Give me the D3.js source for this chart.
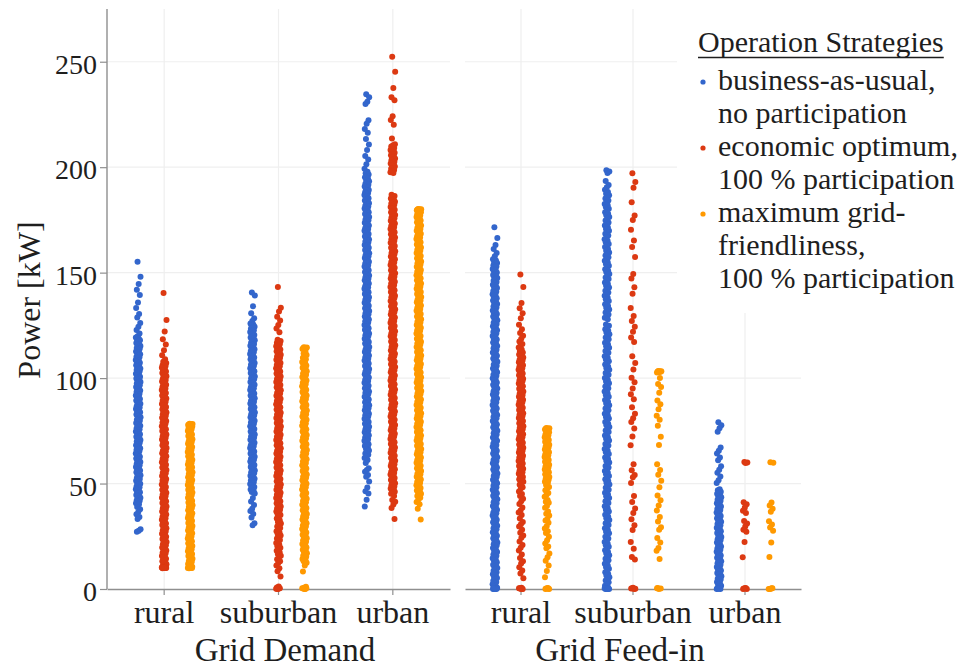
<!DOCTYPE html>
<html>
<head>
<meta charset="utf-8">
<script src="https://cdn.jsdelivr.net/npm/d3@7"></script>
<style>
  body { margin: 0; background: #fff; }
  svg { display: block; }
  text { font-family: "Liberation Serif", "DejaVu Serif", serif; fill: #1e1e1e; }
</style>
</head>
<body>
<svg id="chart" width="973" height="669"></svg>
<script>
// ---- categories, strategies, ticks ----
const panels = ["Grid Demand", "Grid Feed-in"];
const categories = ["rural", "suburban", "urban"];
const strategies = ["bau", "econ", "max"];
const strategyLabels = [
  ["business-as-usual,", "no participation"],
  ["economic optimum,", "100 % participation"],
  ["maximum grid-", "friendliness,", "100 % participation"]
];
const strategyColors = ["#3366cc", "#dc3912", "#ff9900"];
const yTicks = [0, 50, 100, 150, 200, 250];

// ---- power values [kW] per panel / area / strategy ----
const demandRuralBau = [155.2,148.1,144.6,141.9,139.4,135.8,133.2,130.4,128.7,126.1,124.3,122.8,121.2,
119.8,119.3,118.7,118.2,117.9,117.4,116.6,116.1,115.8,115.2,114.7,114.3,113.9,113.4,112.6,112.2,111.8,111.3,110.7,110.1,109.9,109.4,108.6,108.2,107.8,107.3,106.7,106.1,105.9,105.4,104.6,104.2,103.8,103.3,102.7,102.1,101.9,101.4,100.6,100.2,99.8,99.3,98.7,98.1,97.9,97.4,96.6,96.2,95.8,95.3,94.7,94.1,93.9,93.4,92.6,92.2,91.8,91.3,90.7,90.1,89.9,89.4,88.6,88.2,87.8,87.3,86.7,86.1,85.9,85.4,84.6,84.2,83.8,83.3,82.7,82.1,81.9,81.4,80.6,80.2,79.8,79.3,78.7,78.1,77.9,77.4,76.6,76.2,75.8,75.3,74.7,74.1,73.9,73.4,72.6,72.2,71.8,71.3,70.7,70.1,69.9,69.4,68.6,68.2,67.8,67.3,66.7,66.1,65.9,65.4,64.6,64.2,63.8,63.3,62.7,62.1,61.9,61.4,60.6,60.2,59.8,59.3,58.7,58.1,57.9,57.4,56.6,56.2,55.8,55.3,54.7,54.1,53.9,53.4,52.6,52.2,51.8,51.3,50.7,50.1,49.9,49.4,48.6,48.2,47.8,47.3,46.7,46.1,45.9,45.4,44.6,44.2,43.8,43.3,42.7,42.1,41.9,41.4,40.6,40.2,
38.9,37.8,36.5,35.4,34.1,33.2,28.3,27.6,27.1];
const demandRuralEcon = [140.3,127.6,122.1,118.4,115.9,113.2,110.8,108.9,
107.7,107.2,106.8,106.1,105.7,105.3,104.9,104.4,103.6,103.1,102.8,102.4,101.7,101.2,100.9,100.3,99.6,99.1,98.8,98.4,97.7,97.3,96.9,96.2,95.8,95.1,94.7,94.3,93.6,93.2,92.9,92.4,91.8,91.1,90.7,90.3,89.6,89.2,88.8,88.4,87.7,87.1,86.9,86.3,85.6,85.2,84.8,84.1,83.7,83.3,82.9,82.2,81.6,81.2,80.8,80.4,79.7,79.1,78.9,78.3,77.6,77.2,76.8,76.1,75.7,75.3,74.9,74.2,73.6,73.2,72.8,72.4,71.7,71.1,70.9,70.3,69.6,69.2,68.8,68.1,67.7,67.3,66.9,66.2,65.6,65.2,64.8,64.4,63.7,63.1,62.9,62.3,61.6,61.2,60.8,60.1,59.7,59.3,58.9,58.2,57.6,57.2,56.8,56.4,55.7,55.1,54.9,54.3,53.6,53.2,52.8,52.1,51.7,51.3,50.9,50.2,49.6,49.2,48.8,48.4,47.7,47.1,46.9,46.3,45.6,45.2,44.8,44.1,43.7,43.3,42.9,42.2,41.6,41.2,40.8,40.4,39.7,39.1,38.9,38.3,37.6,37.2,36.8,36.1,35.7,35.3,34.9,34.2,33.6,33.2,32.8,32.4,31.7,31.1,30.9,30.3,29.6,29.2,28.8,28.1,27.7,27.3,26.9,26.2,25.6,25.2,24.8,24.4,23.7,23.1,22.9,22.3,21.6,21.2,20.8,20.1,19.7,19.3,18.9,18.2,17.6,17.2,16.8,16.4,15.7,15.1,14.9,14.3,13.6,13.2,12.8,12.1,11.7,11.3,10.9,10.6,
10.4,10.2,10.1,10.0,9.9,10.3,9.8,10.0,10.1,10.2];
const demandRuralMax = [78.3,78.2,78.1,78.0,77.9,77.8,77.7,77.5,77.3,
77.0,76.6,76.1,75.7,75.2,74.9,74.4,73.8,73.3,72.9,72.5,71.9,71.4,71.0,70.6,70.1,69.7,69.2,68.9,68.4,67.8,67.3,66.9,66.5,65.9,65.4,65.0,64.6,64.1,63.7,63.2,62.9,62.4,61.8,61.3,60.9,60.5,59.9,59.4,59.0,58.6,58.1,57.7,57.2,56.9,56.4,55.8,55.3,54.9,54.5,53.9,53.4,53.0,52.6,52.1,51.7,51.2,50.9,50.4,49.8,49.3,48.9,48.5,47.9,47.4,47.0,46.6,46.1,45.7,45.2,44.9,44.4,43.8,43.3,42.9,42.5,41.9,41.4,41.0,40.6,40.1,39.7,39.2,38.9,38.4,37.8,37.3,36.9,36.5,35.9,35.4,35.0,34.6,34.1,33.7,33.2,32.9,32.4,31.8,31.3,30.9,30.5,29.9,29.4,29.0,28.6,28.1,27.7,27.2,26.9,26.4,25.8,25.3,24.9,24.5,23.9,23.4,23.0,22.6,22.1,21.7,21.2,20.9,20.4,19.8,19.3,18.9,18.5,17.9,17.4,17.0,16.6,16.1,15.7,15.2,14.9,14.4,13.8,13.3,12.9,12.5,11.9,11.4,11.0,10.6,
10.4,10.3,10.1,10.0,9.9,10.2,9.8,10.0,10.1];
const demandSuburbanBau = [140.6,139.2,134.1,130.8,128.4,127.1,
125.9,125.4,124.8,124.3,123.9,123.4,122.7,122.2,121.8,121.3,120.9,120.4,119.7,119.2,118.8,118.3,117.9,117.4,116.7,116.2,115.8,115.3,114.9,114.4,113.7,113.2,112.8,112.3,111.9,111.4,110.7,110.2,109.8,109.3,108.9,108.4,107.7,107.2,106.8,106.3,105.9,105.4,104.7,104.2,103.8,103.3,102.9,102.4,101.7,101.2,100.8,100.3,99.9,99.4,98.7,98.2,97.8,97.3,96.9,96.4,95.7,95.2,94.8,94.3,93.9,93.4,92.7,92.2,91.8,91.3,90.9,90.4,89.7,89.2,88.8,88.3,87.9,87.4,86.7,86.2,85.8,85.3,84.9,84.4,83.7,83.2,82.8,82.3,81.9,81.4,80.7,80.2,79.8,79.3,78.9,78.4,77.7,77.2,76.8,76.3,75.9,75.4,74.7,74.2,73.8,73.3,72.9,72.4,71.7,71.2,70.8,70.3,69.9,69.4,68.7,68.2,67.8,67.3,66.9,66.4,65.7,65.2,64.8,64.3,63.9,63.4,62.7,62.2,61.8,61.3,60.9,60.4,59.7,59.2,58.8,58.3,57.9,57.4,56.7,56.2,55.8,55.3,54.9,54.4,53.7,53.2,52.8,52.3,51.9,51.4,50.7,50.2,49.8,49.3,48.9,48.4,47.7,47.2,46.6,46.0,45.3,
43.2,41.5,39.8,38.1,37.0,35.6,33.9,31.2,30.2];
const demandSuburbanEcon = [143.2,133.4,131.6,129.1,127.3,125.2,123.5,121.7,
118.2,117.6,117.1,116.7,116.2,115.6,115.1,114.7,114.2,113.6,113.1,112.7,112.2,111.6,111.1,110.7,110.2,109.6,109.1,108.7,108.2,107.6,107.1,106.7,106.2,105.6,105.1,104.7,104.2,103.6,103.1,102.7,102.2,101.6,101.1,100.7,100.2,99.6,99.1,98.7,98.2,97.6,97.1,96.7,96.2,95.6,95.1,94.7,94.2,93.6,93.1,92.7,92.2,91.6,91.1,90.7,90.2,89.6,89.1,88.7,88.2,87.6,87.1,86.7,86.2,85.6,85.1,84.7,84.2,83.6,83.1,82.7,82.2,81.6,81.1,80.7,80.2,79.6,79.1,78.7,78.2,77.6,77.1,76.7,76.2,75.6,75.1,74.7,74.2,73.6,73.1,72.7,72.2,71.6,71.1,70.7,70.2,69.6,69.1,68.7,68.2,67.6,67.1,66.7,66.2,65.6,65.1,64.7,64.2,63.6,63.1,62.7,62.2,61.6,61.1,60.7,60.2,59.6,59.1,58.7,58.2,57.6,57.1,56.7,56.2,55.6,55.1,54.7,54.2,53.6,53.1,52.7,52.2,51.6,51.1,50.7,50.2,49.6,49.1,48.7,48.2,47.6,47.1,46.7,46.2,45.6,45.1,44.7,44.2,43.6,43.1,42.7,42.2,41.6,41.1,40.7,40.2,39.6,39.1,38.7,38.2,37.6,37.1,36.7,36.2,35.6,35.1,34.2,33.4,32.6,31.8,31.1,30.4,29.6,28.9,28.1,27.4,26.8,26.1,25.4,24.6,23.9,23.2,22.5,21.8,21.1,20.3,19.6,18.8,18.1,17.4,16.6,15.8,14.9,14.1,13.2,12.3,
11.1,9.8,8.4,5.9,1.2,0.7,0.4,0.0,0.1,0.3,0.0];
const demandSuburbanMax = [114.6,114.5,114.4,114.2,114.1,114.0,113.8,
112.4,111.7,111.0,110.3,109.6,108.9,108.2,107.6,107.1,106.6,106.0,105.5,104.9,104.4,103.8,103.3,102.7,102.2,101.6,101.1,100.5,100.0,99.4,98.9,98.3,97.8,97.2,96.7,96.1,95.6,95.0,94.5,93.9,93.4,92.8,92.3,91.7,91.2,90.6,90.1,89.5,89.0,88.4,87.9,87.3,86.8,86.2,85.7,85.1,84.6,84.0,83.5,82.9,82.4,81.8,81.3,80.7,80.2,79.6,79.1,78.5,78.0,77.4,76.9,76.3,75.8,75.2,74.7,74.1,73.6,73.0,72.5,71.9,71.4,70.8,70.3,69.7,69.2,68.6,68.1,67.5,67.0,66.4,65.9,65.3,64.8,64.2,63.7,63.1,62.6,62.0,61.5,60.9,60.4,59.8,59.3,58.7,58.2,57.6,57.1,56.5,56.0,55.4,54.9,54.3,53.8,53.2,52.7,52.1,51.6,51.0,50.5,49.9,49.4,48.8,48.3,47.7,47.2,46.6,46.1,45.5,45.0,44.4,43.9,43.3,42.8,42.2,41.7,41.1,40.6,40.0,39.5,38.9,38.4,37.8,37.3,36.7,36.2,35.6,35.1,34.5,34.0,33.4,32.9,32.3,31.8,31.2,30.7,30.1,29.6,29.0,28.5,27.9,27.4,26.8,26.3,25.7,25.2,24.6,24.1,23.5,23.0,22.4,21.9,21.3,20.8,20.2,19.7,19.1,18.6,18.0,17.5,16.9,16.4,15.8,15.3,14.7,14.2,13.6,13.1,12.4,
11.2,8.3,1.1,0.6,0.3,0.0,0.2,0.4,0.0];
const demandUrbanBau = [234.6,233.2,231.0,229.9,222.3,220.6,218.1,216.3,213.4,210.8,208.2,205.3,203.6,201.4,199.2,
197.8,197.1,196.5,195.8,195.2,194.6,193.9,193.3,192.8,192.2,191.7,191.1,190.8,190.3,189.6,189.2,188.9,188.1,187.7,187.4,186.8,186.1,185.9,185.3,184.7,184.2,183.8,183.4,182.9,182.2,181.7,181.3,180.8,180.4,179.9,179.2,178.6,178.3,177.8,177.1,176.9,176.4,175.7,175.2,174.8,174.3,173.6,173.1,172.9,172.4,171.8,171.1,170.7,170.3,169.9,169.2,168.6,168.3,167.8,167.1,166.9,166.4,165.7,165.2,164.8,164.3,163.6,163.1,162.9,162.4,161.8,161.1,160.7,160.3,159.9,159.2,158.6,158.3,157.8,157.1,156.9,156.4,155.7,155.2,154.8,154.3,153.6,153.1,152.9,152.4,151.8,151.1,150.7,150.3,149.9,149.2,148.6,148.3,147.8,147.1,146.9,146.4,145.7,145.2,144.8,144.3,143.6,143.1,142.9,142.4,141.8,141.1,140.7,140.3,139.9,139.2,138.6,138.3,137.8,137.1,136.9,136.4,135.7,135.2,134.8,134.3,133.6,133.1,132.9,132.4,131.8,131.1,130.7,130.3,129.9,129.2,128.6,128.3,127.8,127.1,126.9,126.4,125.7,125.2,124.8,124.3,123.6,123.1,122.9,122.4,121.8,121.1,120.7,120.3,119.9,119.2,118.6,118.3,117.8,117.1,116.9,116.4,115.7,115.2,114.8,114.3,113.6,113.1,112.9,112.4,111.8,111.1,110.7,110.3,109.9,109.2,108.6,108.3,107.8,107.1,106.9,106.4,105.7,105.2,104.8,104.3,103.6,103.1,102.9,102.4,101.8,101.1,100.7,100.3,99.9,99.2,98.6,98.3,97.8,97.1,96.9,96.4,95.7,95.2,94.8,94.3,93.6,93.1,92.9,92.4,91.8,91.1,90.7,90.3,89.9,89.2,88.6,88.3,87.8,87.1,86.9,86.4,85.7,85.2,84.8,84.3,83.6,83.1,82.9,82.4,81.8,81.1,80.7,80.3,79.9,79.2,78.6,78.3,77.8,77.1,76.9,76.4,75.7,75.2,74.8,74.3,73.6,73.1,72.9,72.4,71.8,71.1,70.7,70.3,69.9,69.2,68.6,68.3,67.8,67.1,66.4,65.7,65.2,64.3,63.6,62.9,62.1,
61.2,59.8,57.3,56.4,55.6,54.1,53.2,51.0,48.1,46.4,45.3,42.3,39.1];
const demandUrbanEcon = [252.4,245.3,237.6,233.1,231.7,224.2,222.4,220.1,213.6,
210.9,210.4,209.8,209.1,208.6,208.2,207.7,207.1,206.8,206.3,205.6,205.2,204.7,204.1,203.8,203.3,202.6,202.2,201.7,201.1,200.8,200.3,199.6,199.2,198.7,198.1,197.6,197.2,
186.9,186.3,185.8,185.1,184.7,184.2,183.6,183.1,182.8,182.2,181.6,181.1,180.7,180.3,179.8,179.1,178.6,178.2,177.7,177.3,176.6,176.1,175.8,175.2,174.6,174.1,173.7,173.3,172.8,172.1,171.6,171.2,170.7,170.3,169.6,169.1,168.8,168.2,167.6,167.1,166.7,166.3,165.8,165.1,164.6,164.2,163.7,163.3,162.6,162.1,161.8,161.2,160.6,160.1,159.7,159.3,158.8,158.1,157.6,157.2,156.7,156.3,155.6,155.1,154.8,154.2,153.6,153.1,152.7,152.3,151.8,151.1,150.6,150.2,149.7,149.3,148.6,148.1,147.8,147.2,146.6,146.1,145.7,145.3,144.8,144.1,143.6,143.2,142.7,142.3,141.6,141.1,140.8,140.2,139.6,139.1,138.7,138.3,137.8,137.1,136.6,136.2,135.7,135.3,134.6,134.1,133.8,133.2,132.6,132.1,131.7,131.3,130.8,130.1,129.6,129.2,128.7,128.3,127.6,127.1,126.8,126.2,125.6,125.1,124.7,124.3,123.8,123.1,122.6,122.2,121.7,121.3,120.6,120.1,119.8,119.2,118.6,118.1,117.7,117.3,116.8,116.1,115.6,115.2,114.7,114.3,113.6,113.1,112.8,112.2,111.6,111.1,110.7,110.3,109.8,109.1,108.6,108.2,107.7,107.3,106.6,106.1,105.8,105.2,104.6,104.1,103.7,103.3,102.8,102.1,101.6,101.2,100.7,100.3,99.6,99.1,98.8,98.2,97.6,97.1,96.7,96.3,95.8,95.1,94.6,94.2,93.7,93.3,92.6,92.1,91.8,91.2,90.6,90.1,89.7,89.3,88.8,88.1,87.6,87.2,86.7,86.3,85.6,85.1,84.8,84.2,83.6,83.1,82.7,82.3,81.8,81.1,80.6,80.2,79.7,79.3,78.6,78.1,77.8,77.2,76.6,76.1,75.7,75.3,74.8,74.1,73.6,73.2,72.7,72.3,71.6,71.1,70.8,70.2,69.6,69.1,68.7,68.3,67.8,67.1,66.6,66.2,65.7,65.3,64.6,64.1,63.8,63.2,62.6,62.1,61.7,61.3,60.8,60.1,59.6,59.2,58.7,58.3,57.6,57.1,56.8,56.2,55.6,55.1,54.7,54.3,53.8,53.1,52.6,52.2,51.7,51.3,50.6,50.1,49.8,49.2,48.6,48.1,47.7,47.3,46.8,46.1,45.6,45.2,
44.1,42.2,41.4,40.1,38.4,33.2];
const demandUrbanMax = [180.2,180.1,180.0,179.9,179.8,179.7,179.6,179.5,
179.1,178.6,178.2,177.7,177.1,176.8,176.4,175.9,175.3,174.7,174.4,173.9,173.2,172.8,172.4,171.9,171.3,170.7,170.4,169.9,169.2,168.8,168.4,167.9,167.3,166.7,166.4,165.9,165.2,164.8,164.4,163.9,163.3,162.7,162.4,161.9,161.2,160.8,160.4,159.9,159.3,158.7,158.4,157.9,157.2,156.8,156.4,155.9,155.3,154.7,154.4,153.9,153.2,152.8,152.4,151.9,151.3,150.7,150.4,149.9,149.2,148.8,148.4,147.9,147.3,146.7,146.4,145.9,145.2,144.8,144.4,143.9,143.3,142.7,142.4,141.9,141.2,140.8,140.4,139.9,139.3,138.7,138.4,137.9,137.2,136.8,136.4,135.9,135.3,134.7,134.4,133.9,133.2,132.8,132.4,131.9,131.3,130.7,130.4,129.9,129.2,128.8,128.4,127.9,127.3,126.7,126.4,125.9,125.2,124.8,124.4,123.9,123.3,122.7,122.4,121.9,121.2,120.8,120.4,119.9,119.3,118.7,118.4,117.9,117.2,116.8,116.4,115.9,115.3,114.7,114.4,113.9,113.2,112.8,112.4,111.9,111.3,110.7,110.4,109.9,109.2,108.8,108.4,107.9,107.3,106.7,106.4,105.9,105.2,104.8,104.4,103.9,103.3,102.7,102.4,101.9,101.2,100.8,100.4,99.9,99.3,98.7,98.4,97.9,97.2,96.8,96.4,95.9,95.3,94.7,94.4,93.9,93.2,92.8,92.4,91.9,91.3,90.7,90.4,89.9,89.2,88.8,88.4,87.9,87.3,86.7,86.4,85.9,85.2,84.8,84.4,83.9,83.3,82.7,82.4,81.9,81.2,80.8,80.4,79.9,79.3,78.7,78.4,77.9,77.2,76.8,76.4,75.9,75.3,74.7,74.4,73.9,73.2,72.8,72.4,71.9,71.3,70.7,70.4,69.9,69.2,68.8,68.4,67.9,67.3,66.7,66.4,65.9,65.2,64.8,64.4,63.9,63.3,62.7,62.4,61.9,61.2,60.8,60.4,59.9,59.3,58.7,58.4,57.9,57.2,56.8,56.4,55.9,55.3,54.7,54.4,53.9,53.2,52.8,52.4,51.9,51.3,50.7,50.4,49.9,49.2,48.8,48.4,47.9,47.3,46.7,46.4,45.9,45.2,44.8,44.1,43.3,42.4,
41.2,40.2,38.1,33.0];
const feedRuralBau = [171.5,166.4,163.1,161.2,159.3,157.8,
156.3,155.7,155.1,154.6,154.2,153.5,152.9,152.4,151.7,151.2,150.8,150.1,149.4,148.9,148.3,147.8,147.5,146.7,146.1,145.6,144.9,144.3,143.8,143.2,142.7,142.1,141.3,140.9,140.5,139.8,139.2,138.6,137.9,137.4,136.8,136.2,135.6,135.1,134.3,133.9,133.5,132.8,132.1,131.6,130.8,130.4,129.9,129.2,128.6,128.1,127.4,126.9,126.2,125.7,125.3,124.6,123.9,123.4,122.7,122.2,121.8,121.1,120.4,119.9,119.1,118.7,118.3,117.6,116.9,116.4,115.7,115.2,114.6,114.1,113.4,112.8,112.1,111.7,111.3,110.6,109.8,109.3,108.6,108.2,107.7,107.1,106.3,105.8,105.0,104.6,104.1,103.5,102.8,102.3,101.6,101.1,100.4,99.9,99.3,98.7,97.9,97.4,96.8,96.3,95.7,95.1,94.3,93.8,93.1,92.6,92.2,91.5,90.8,90.3,89.6,89.1,88.5,87.9,87.3,86.8,86.0,85.6,85.2,84.5,83.7,83.2,82.5,82.0,81.6,80.9,80.2,79.7,78.9,78.5,78.0,77.4,76.7,76.2,75.5,75.0,74.3,73.8,73.2,72.6,71.8,71.4,70.9,70.3,69.5,69.0,68.3,67.8,67.4,66.7,66.0,65.5,64.7,64.3,63.8,63.2,62.5,62.0,61.2,60.7,60.1,59.6,59.0,58.4,57.6,57.2,56.7,56.1,55.3,54.8,54.1,53.6,53.2,52.5,51.8,51.3,50.5,50.1,49.6,49.0,48.3,47.8,47.0,46.5,45.9,45.4,44.8,44.2,43.4,43.0,42.5,41.9,41.1,40.6,39.9,39.4,39.0,38.3,37.6,37.1,36.3,35.9,35.4,34.8,34.1,33.6,32.8,32.3,31.7,31.2,30.6,30.0,29.2,28.8,28.3,27.7,26.9,26.4,25.7,25.2,24.8,24.1,23.4,22.9,22.1,21.7,21.2,20.6,19.9,19.4,18.6,18.1,17.5,17.0,16.4,15.8,15.0,14.6,14.1,13.5,12.7,12.2,11.5,11.0,10.6,9.9,9.2,8.7,7.9,7.5,7.0,6.4,5.7,5.2,4.4,3.9,3.3,2.8,2.2,1.6,1.1,0.7,
0.4,0.0,0.2,0.0,0.5,0.1,0.3,0.0];
const feedRuralEcon = [149.1,143.2,135.6,133.1,130.7,128.4,125.3,123.2,121.4,120.1,118.6,117.3,116.2,115.4,114.5,113.6,112.8,
112.1,111.6,111.2,110.7,110.4,109.8,109.3,108.7,108.3,107.9,107.5,106.9,106.6,106.1,105.8,105.2,104.7,104.3,103.9,103.4,102.6,102.2,101.9,101.4,100.8,100.4,99.7,99.2,99.0,98.5,97.9,97.4,96.8,96.4,96.1,95.5,94.9,94.4,94.0,93.6,93.2,92.6,92.0,91.6,91.2,90.8,90.3,89.7,89.1,88.8,88.4,87.9,87.4,86.8,86.2,85.9,85.5,84.9,84.5,83.9,83.3,83.0,82.6,82.0,81.6,81.1,80.5,80.1,79.7,79.2,78.6,78.1,77.7,77.2,76.8,76.3,75.7,75.2,74.8,74.3,73.9,73.4,72.8,72.3,71.9,71.4,71.0,70.5,69.9,69.4,69.0,68.5,68.1,67.5,67.0,66.5,66.1,65.6,65.3,64.7,64.1,63.6,63.2,62.8,62.4,61.8,61.2,60.7,60.4,59.9,59.5,58.9,58.3,57.8,57.5,57.0,56.6,56.0,55.4,54.9,54.6,54.1,53.8,53.1,52.5,52.0,51.7,51.2,50.9,50.2,
49.4,48.3,47.6,46.2,45.1,44.1,42.8,41.6,40.3,38.6,37.2,36.3,35.1,33.4,31.8,30.7,29.6,28.1,26.7,25.4,24.3,22.5,20.9,19.6,18.2,16.4,14.7,13.2,12.1,10.3,8.8,7.4,5.1,
0.6,0.3,0.0,0.1,0.4,0.0,0.2];
const feedRuralMax = [76.3,76.2,76.1,76.0,75.9,75.8,75.6,
75.1,74.7,74.3,73.8,73.3,72.9,72.4,72.0,71.6,71.1,70.6,70.2,69.8,69.3,68.8,68.4,67.9,67.5,67.1,66.6,66.1,65.7,65.3,64.8,64.3,63.9,63.4,63.0,62.6,62.1,61.6,61.2,60.8,60.3,59.8,59.4,58.9,58.5,58.1,57.6,57.1,56.7,56.3,55.8,55.3,54.9,54.4,54.0,53.6,53.1,52.6,52.2,51.8,51.3,50.8,50.4,
49.3,48.4,47.6,46.8,45.5,44.7,43.7,42.2,41.4,40.9,39.3,38.5,36.8,35.7,34.9,33.2,32.5,31.4,29.8,28.7,27.4,26.5,24.8,23.1,21.6,20.2,19.3,16.8,15.1,13.4,11.2,8.5,5.6,
0.5,0.2,0.0,0.3,0.0,0.1];
const feedSuburbanBau = [198.6,197.9,197.2,193.4,191.6,190.5,189.3,188.2,187.4,186.7,185.8,185.1,184.2,183.4,182.6,181.9,181.1,180.3,179.5,178.6,177.9,177.2,176.4,175.5,174.7,173.8,173.1,172.4,171.5,170.7,169.9,169.1,168.4,167.6,166.7,165.8,165.1,164.4,163.6,162.9,162.1,161.2,160.4,159.6,158.8,158.1,157.3,156.4,155.6,154.9,154.1,153.3,152.5,151.6,150.9,150.2,149.3,148.5,147.7,147.0,146.2,145.3,144.6,143.8,143.0,142.1,141.4,140.6,139.8,139.0,138.2,137.4,136.6,135.8,135.0,134.2,133.4,132.5,131.8,131.1,130.2,129.3,128.6,127.9,
125.4,124.8,124.0,123.2,122.4,121.6,120.8,120.0,119.2,118.4,117.6,116.8,116.0,115.1,114.4,113.6,112.8,112.0,111.2,110.3,109.6,108.8,108.0,107.2,106.4,105.5,104.8,104.0,103.2,102.4,101.6,100.8,100.0,99.1,98.4,97.6,96.8,96.0,95.2,94.3,93.6,92.8,92.0,91.2,90.4,89.6,88.8,88.0,87.1,86.4,85.6,84.8,84.0,83.1,82.4,81.6,80.8,80.0,79.2,78.4,77.6,76.8,75.9,75.2,74.4,73.5,72.8,72.0,71.2,70.4,69.6,68.7,68.0,67.2,66.4,65.6,64.8,64.0,63.1,62.4,61.6,60.8,60.0,59.2,58.3,57.6,56.8,56.0,55.2,54.4,53.6,52.7,52.0,51.2,50.4,49.6,48.8,48.0,47.1,46.4,45.6,44.8,44.0,43.2,42.3,41.6,40.8,40.0,39.2,38.3,37.6,36.8,36.0,35.2,34.4,33.6,32.7,32.0,31.2,30.4,29.6,28.8,28.0,27.1,26.4,25.6,24.8,24.0,23.2,22.3,21.6,20.8,20.0,19.2,18.4,17.5,16.8,16.0,15.2,14.4,13.6,12.7,12.0,11.2,10.4,9.6,8.8,8.0,7.1,6.4,5.6,4.8,4.0,3.2,2.3,1.6,0.8,
0.5,0.0,0.2,0.0,0.4,0.1,0.3,0.0];
const feedSuburbanEcon = [197.1,193.0,190.2,183.4,177.1,175.0,170.3,165.2,162.1,157.4,149.3,147.2,143.1,140.0,133.2,129.4,127.1,124.3,122.0,119.2,117.1,110.3,107.2,104.1,100.2,98.0,95.1,92.3,90.0,86.2,83.1,81.0,79.2,76.1,72.3,68.1,59.2,56.3,54.1,53.0,50.2,44.1,41.3,38.2,36.0,33.1,30.2,28.0,22.3,19.1,15.2,14.0,0.6,0.2,0.0,0.4,0.1];
const feedSuburbanMax = [103.4,103.3,103.2,103.1,103.0,102.8,102.6,100.1,97.2,95.8,93.1,89.4,87.6,85.2,82.1,80.3,77.4,72.2,68.3,59.1,56.4,54.2,51.3,48.2,44.3,42.1,39.6,37.2,34.1,32.0,29.3,28.1,24.2,22.0,19.4,18.1,14.2,0.5,0.2,0.0,0.3];
const feedUrbanBau = [79.1,77.6,76.2,74.5,67.1,65.6,64.2,62.3,61.1,58.2,56.6,55.1,53.3,51.6,50.2,
47.3,46.8,46.1,45.7,45.2,44.6,44.0,43.5,42.9,42.3,41.8,41.2,40.6,40.1,39.7,39.1,38.4,37.9,37.5,36.8,36.3,35.7,35.1,34.6,34.2,33.5,33.0,32.4,31.9,31.2,30.8,30.2,29.6,29.1,28.7,28.0,27.4,26.9,26.5,25.8,25.3,24.7,24.1,23.6,23.2,22.5,22.0,21.4,20.9,20.2,19.8,19.2,18.6,18.1,17.7,17.0,16.4,15.9,15.5,14.8,14.3,13.7,13.1,12.6,12.2,11.5,11.0,10.4,9.9,9.2,8.8,8.2,7.6,7.1,6.7,6.0,5.4,4.9,4.5,3.8,3.3,2.7,2.1,1.6,1.2,
0.5,0.0,0.2,0.0,0.4,0.1];
const feedUrbanEcon = [60.2,60.0,59.8,41.1,40.2,38.6,37.1,36.0,32.2,31.0,29.6,28.1,27.2,22.3,15.1,0.5,0.2,0.0,0.3,0.0];
const feedUrbanMax = [60.1,59.9,41.0,39.6,38.1,36.6,32.1,30.6,29.2,27.6,22.1,15.2,0.4,0.1,0.0,0.3,0.0];

// strips: panel x area x strategy
const strips = [
  [panels[0], "rural", "bau", demandRuralBau], [panels[0], "rural", "econ", demandRuralEcon], [panels[0], "rural", "max", demandRuralMax],
  [panels[0], "suburban", "bau", demandSuburbanBau], [panels[0], "suburban", "econ", demandSuburbanEcon], [panels[0], "suburban", "max", demandSuburbanMax],
  [panels[0], "urban", "bau", demandUrbanBau], [panels[0], "urban", "econ", demandUrbanEcon], [panels[0], "urban", "max", demandUrbanMax],
  [panels[1], "rural", "bau", feedRuralBau], [panels[1], "rural", "econ", feedRuralEcon], [panels[1], "rural", "max", feedRuralMax],
  [panels[1], "suburban", "bau", feedSuburbanBau], [panels[1], "suburban", "econ", feedSuburbanEcon], [panels[1], "suburban", "max", feedSuburbanMax],
  [panels[1], "urban", "bau", feedUrbanBau], [panels[1], "urban", "econ", feedUrbanEcon], [panels[1], "urban", "max", feedUrbanMax]
];

// ---- layout ----
const svg = d3.select("#chart");
const plotTop = 9, plotBottom = 589;
const panelRanges = { "Grid Demand": [107, 450], "Grid Feed-in": [465, 801] };
const panelTitleX = { "Grid Demand": 285, "Grid Feed-in": 620 };
const fontStack = '"Liberation Serif", "DejaVu Serif", serif';

const y = d3.scaleLinear().domain([0, 275]).range([plotBottom, plotTop]);
const color = d3.scaleOrdinal().domain(strategies).range(strategyColors);
const offset = d3.scalePoint().domain(strategies).range([-26, 26]);
const xScales = {};
panels.forEach(p => { xScales[p] = d3.scaleBand().domain(categories).range(panelRanges[p]).padding(0); });

const gridColor = "#efefef";
const axisColor = "#8f8f8f";

// gridlines
const grid = svg.append("g");
panels.forEach(p => {
  const x = xScales[p];
  const [x0, x1] = panelRanges[p];
  grid.selectAll(null).data(yTicks.filter(t => t > 0)).join("line")
    .attr("x1", x0).attr("x2", x1)
    .attr("y1", d => y(d)).attr("y2", d => y(d))
    .attr("stroke", gridColor).attr("stroke-width", 1.2);
  grid.selectAll(null).data(categories).join("line")
    .attr("x1", d => x(d) + x.bandwidth() / 2).attr("x2", d => x(d) + x.bandwidth() / 2)
    .attr("y1", plotTop).attr("y2", plotBottom)
    .attr("stroke", gridColor).attr("stroke-width", 1.2);
});

// y axis (left panel only)
const yAxis = svg.append("g")
  .attr("transform", `translate(${panelRanges[panels[0]][0]},0)`)
  .call(d3.axisLeft(y).tickValues(yTicks).tickSize(7).tickSizeOuter(0).tickPadding(3).tickFormat(d3.format("d")));
yAxis.attr("font-family", null);
yAxis.select(".domain").attr("stroke", axisColor).attr("stroke-width", 1.4)
  .attr("d", `M0,${plotTop}V${plotBottom}`);
yAxis.selectAll(".tick line").attr("stroke", axisColor).attr("stroke-width", 1.2);
yAxis.selectAll(".tick text").attr("font-size", 28).attr("dy", "0.42em")
  .style("font-family", fontStack).attr("fill", "#1e1e1e");

// x axes per panel
panels.forEach(p => {
  const g = svg.append("g")
    .attr("transform", `translate(0,${plotBottom})`)
    .call(d3.axisBottom(xScales[p]).tickSize(6).tickSizeOuter(0));
  g.attr("font-family", null);
  g.select(".domain").attr("stroke", axisColor).attr("stroke-width", 1.4);
  g.selectAll(".tick line").attr("stroke", axisColor).attr("stroke-width", 1.2);
  g.selectAll(".tick text").attr("font-size", 32).attr("y", 34).attr("dy", 0)
    .style("font-family", fontStack).attr("fill", "#1e1e1e");
  svg.append("text")
    .attr("x", panelTitleX[p]).attr("y", 661)
    .attr("text-anchor", "middle").attr("font-size", 33)
    .style("font-family", fontStack)
    .text(p);
});

// y axis title
svg.append("text")
  .attr("transform", "translate(40,300) rotate(-90)")
  .attr("text-anchor", "middle").attr("font-size", 32)
  .style("font-family", fontStack)
  .text("Power [kW]");

// jittered strip points
const points = [];
strips.forEach(([panel, cat, strat, vals]) => {
  vals.forEach((v, i) => {
    const j = (((i * 0.6180339887 + 0.37) % 1) - 0.5) * 4.8;
    points.push({ panel, cat, strat, v, j });
  });
});
svg.append("g").selectAll("circle").data(points).join("circle")
  .attr("cx", d => xScales[d.panel](d.cat) + xScales[d.panel].bandwidth() / 2 + offset(d.strat) + d.j)
  .attr("cy", d => y(d.v))
  .attr("r", 3)
  .attr("fill", d => color(d.strat));

// legend
const legend = svg.append("g").style("font-family", fontStack);
legend.append("rect").attr("x", 677).attr("y", 0).attr("width", 296).attr("height", 313).attr("fill", "#fff");
const title = legend.append("text").attr("x", 698).attr("y", 52).attr("font-size", 30)
  .style("font-family", fontStack).text("Operation Strategies");
const tw = title.node().getComputedTextLength();
legend.append("line").attr("x1", 698).attr("x2", 698 + tw).attr("y1", 57.5).attr("y2", 57.5)
  .attr("stroke", "#1e1e1e").attr("stroke-width", 1.3);
let line = 0;
strategies.forEach((s, k) => {
  const base = 90 + line * 33;
  legend.append("circle").attr("cx", 703).attr("cy", base - 8).attr("r", 2.6).attr("fill", color(s));
  strategyLabels[k].forEach((txt, m) => {
    legend.append("text").attr("x", 718).attr("y", 90 + (line + m) * 33).attr("font-size", 30)
      .style("font-family", fontStack).text(txt);
  });
  line += strategyLabels[k].length;
});
</script>
</body>
</html>
